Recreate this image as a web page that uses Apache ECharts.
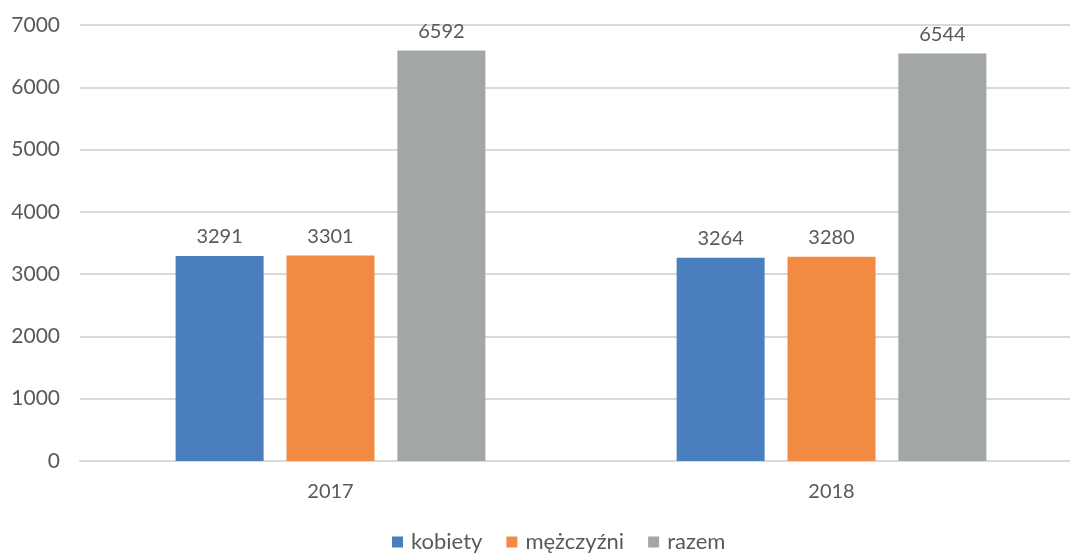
<!DOCTYPE html>
<html><head><meta charset="utf-8">
<script src="https://cdn.jsdelivr.net/npm/echarts@6/dist/echarts.min.js"></script>
<style>html,body{margin:0;padding:0;background:#fff;overflow:hidden}#c{width:1082px;height:553px}</style>
</head><body><div id="c"></div>
<script>
const categories = ['2017', '2018'];
const seriesNames = ['kobiety', 'mężczyźni', 'razem'];
const kobiety = [3291, 3264];
const mezczyzni = [3301, 3280];
const razem = [6592, 6544];
const yTicks = [0, 1000, 2000, 3000, 4000, 5000, 6000, 7000];

const colors = ['#4A7EBF', '#F28A43', '#A3A6A6'];
const font = 'Lato, "Open Sans", sans-serif';
const txt = '#595959';
const chart = echarts.init(document.getElementById('c'));
const mk = (name, data, color) => ({
  name, type: 'bar', data, barWidth: 88, barGap: '26%',
  itemStyle: { color },
  label: { show: true, position: 'top', distance: 9, color: txt, fontSize: 20, fontFamily: font },
  emphasis: { disabled: true }
});
chart.setOption({
  animation: false,
  textStyle: { fontFamily: font },
  grid: { left: 80, top: 25, right: 0, height: 436, containLabel: false },
  legend: {
    top: 531, left: 392, padding: 0, itemWidth: 11, itemHeight: 11, itemGap: 24,
    icon: 'rect', textStyle: { color: txt, fontSize: 22, fontFamily: font, padding: [0, 0, 0, 3] },
    data: seriesNames
  },
  xAxis: {
    type: 'category', data: categories,
    axisLine: { lineStyle: { color: '#D9D9D9', width: 2 } },
    axisTick: { show: false },
    axisLabel: { color: txt, fontSize: 20, fontFamily: font, margin: 21 }
  },
  yAxis: {
    type: 'value', min: yTicks[0], max: yTicks[yTicks.length - 1], interval: 1000,
    axisLine: { show: false }, axisTick: { show: false },
    splitLine: { lineStyle: { color: '#D9D9D9', width: 2 } },
    axisLabel: { color: txt, fontSize: 21, fontFamily: font, margin: 20, formatter: v => String(v) }
  },
  series: [mk(seriesNames[0], kobiety, colors[0]), mk(seriesNames[1], mezczyzni, colors[1]), mk(seriesNames[2], razem, colors[2])]
});
</script></body></html>
